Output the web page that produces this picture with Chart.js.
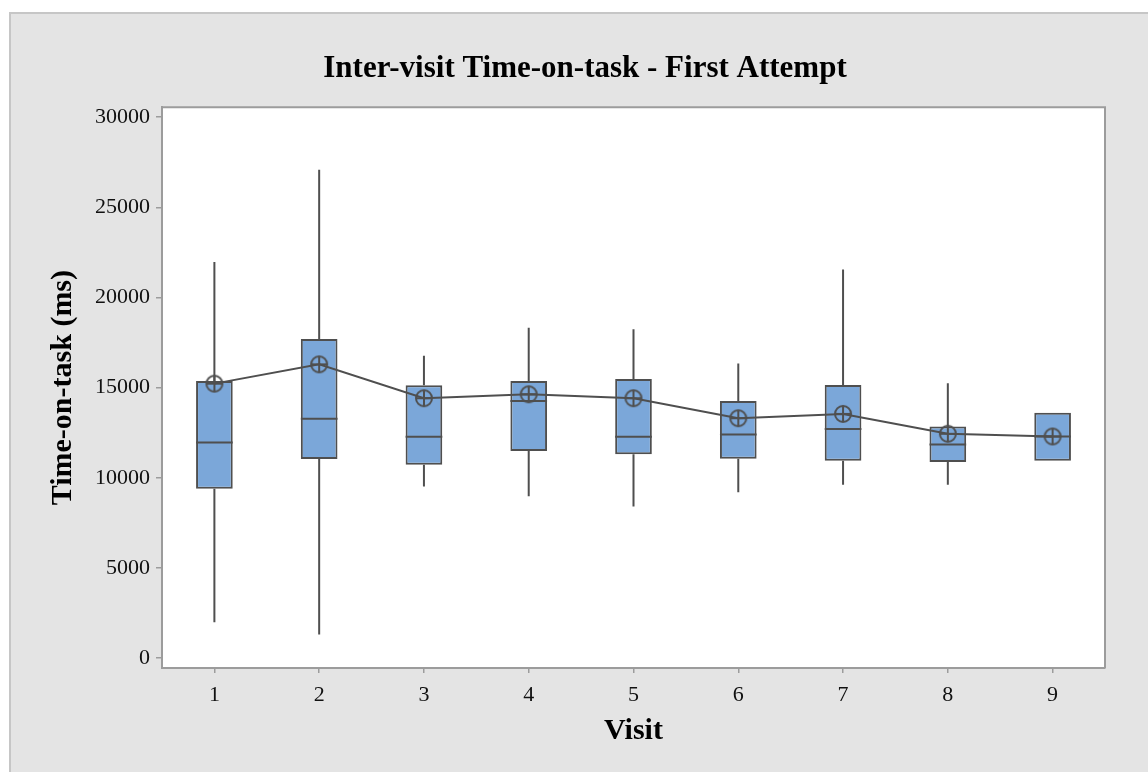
<!DOCTYPE html>
<html>
<head>
<meta charset="utf-8">
<title>Inter-visit Time-on-task - First Attempt</title>
<script src="https://cdn.jsdelivr.net/npm/chart.js@4.4.1/dist/chart.umd.min.js"></script>
<style>
  html, body { margin: 0; padding: 0; background: #ffffff; }
  #wrap { width: 1148px; height: 772px; }
</style>
</head>
<body>
<div id="wrap"><canvas id="chart" width="1148" height="772"></canvas></div>
<script>
// Visits on the x axis
const visits = ['1', '2', '3', '4', '5', '6', '7', '8', '9'];

// Box-plot summary per visit (ms)
const whiskerLow  = [1980, 1310, 9520, 8970, 8410, 9190, 9610, 9610, 10940];
const quartile1   = [9390, 11040, 10720, 11490, 11310, 11050, 10940, 10870, 10940];
const medians     = [11950, 13270, 12270, 14260, 12270, 12400, 12710, 11840, 12290];
const quartile3   = [15370, 17690, 15130, 15370, 15480, 14260, 15150, 12840, 13610];
const whiskerHigh = [21970, 27080, 16770, 18320, 18230, 16330, 21550, 15240, 13610];
const means       = [15220, 16290, 14410, 14630, 14410, 13300, 13540, 12440, 12290];

// Y axis tick values
const yTicks = [0, 5000, 10000, 15000, 20000, 25000, 30000];

const INK = '#4f4f4f';
const AXIS = '#9c9c9c';
const SERIF = "'Liberation Serif', 'Times New Roman', Times, serif";

// Mean symbol: circle with a cross
function meanSymbol() {
  const c = document.createElement('canvas');
  c.width = 22; c.height = 22;
  const g = c.getContext('2d');
  g.strokeStyle = INK;
  g.lineWidth = 2;
  g.beginPath();
  g.arc(11, 11, 8, 0, Math.PI * 2);
  g.stroke();
  g.beginPath();
  g.moveTo(11, 3); g.lineTo(11, 19);
  g.moveTo(3, 11); g.lineTo(19, 11);
  g.stroke();
  return c;
}

// Grey page background, white data region, frame on top and right
const frame = {
  id: 'frame',
  beforeDraw(chart) {
    const { ctx, width, height, chartArea: a } = chart;
    ctx.save();
    ctx.fillStyle = '#ffffff';
    ctx.fillRect(0, 0, width, height);
    ctx.fillStyle = '#e4e4e4';
    ctx.fillRect(9, 12, width - 9, height - 12);
    ctx.strokeStyle = '#c6c6c6';
    ctx.lineWidth = 2;
    ctx.beginPath();
    ctx.moveTo(10, height); ctx.lineTo(10, 13); ctx.lineTo(width, 13);
    ctx.stroke();
    ctx.fillStyle = '#ffffff';
    ctx.fillRect(a.left, a.top, a.right - a.left, a.bottom - a.top);
    ctx.restore();
  },
  afterDraw(chart) {
    const { ctx, chartArea: a } = chart;
    ctx.save();
    ctx.strokeStyle = AXIS;
    ctx.lineWidth = 2;
    ctx.beginPath();
    ctx.moveTo(a.left, a.top); ctx.lineTo(a.right, a.top); ctx.lineTo(a.right, a.bottom);
    ctx.stroke();
    ctx.restore();
  }
};

// Median lines across each box, drawn right after the boxes
const BOX_INDEX = 2;
const medianLines = {
  id: 'medianLines',
  afterDatasetDraw(chart, args) {
    if (args.index !== BOX_INDEX) return;
    const { ctx } = chart;
    const y = chart.scales.y;
    const meta = chart.getDatasetMeta(BOX_INDEX);
    ctx.save();
    ctx.strokeStyle = INK;
    ctx.lineWidth = 2;
    meta.data.forEach((bar, i) => {
      const half = bar.width / 2;
      const py = y.getPixelForValue(medians[i]);
      ctx.beginPath();
      ctx.moveTo(bar.x - half, py);
      ctx.lineTo(bar.x + half, py);
      ctx.stroke();
    });
    ctx.restore();
  }
};

const LEFT_PAD = 65;

// Thin vertical bar used for both whisker halves
const whiskerStyle = {
  type: 'bar',
  backgroundColor: INK,
  borderWidth: 0,
  inflateAmount: 0,
  barThickness: 2,
  grouped: false,
  order: 3
};

new Chart(document.getElementById('chart'), {
  data: {
    labels: visits,
    datasets: [
      Object.assign({}, whiskerStyle, {
        label: 'Lower whisker',
        data: visits.map((_, i) => [whiskerLow[i], quartile1[i]])
      }),
      Object.assign({}, whiskerStyle, {
        label: 'Upper whisker',
        data: visits.map((_, i) => [quartile3[i], whiskerHigh[i]])
      }),
      {
        type: 'bar',
        label: 'Interquartile range',
        data: visits.map((_, i) => [quartile1[i], quartile3[i]]),
        backgroundColor: '#7ba7d9',
        borderColor: INK,
        borderWidth: 2,
        borderSkipped: false,
        barPercentage: 0.35,
        categoryPercentage: 1,
        grouped: false,
        order: 2
      },
      {
        type: 'line',
        label: 'Mean',
        data: means,
        borderColor: INK,
        borderWidth: 2,
        tension: 0,
        pointStyle: meanSymbol(),
        pointRadius: 9,
        pointHoverRadius: 9,
        order: 1
      }
    ]
  },
  options: {
    responsive: false,
    animation: false,
    devicePixelRatio: 1,
    events: [],
    layout: { padding: { left: LEFT_PAD, right: 43, top: 12, bottom: 0 } },
    plugins: {
      legend: { display: false },
      tooltip: { enabled: false },
      title: {
        display: true,
        text: 'Inter-visit Time-on-task - First Attempt',
        color: '#000000',
        font: { family: SERIF, size: 31, weight: 'bold', lineHeight: 1.2 },
        padding: { top: 38, bottom: 20 }
      }
    },
    scales: {
      x: {
        type: 'category',
        offset: true,
        grid: { offset: false, drawOnChartArea: false, drawTicks: true, tickLength: 5, color: AXIS, lineWidth: 1.5 },
        border: { display: true, color: AXIS, width: 2 },
        ticks: { color: '#111111', padding: 9, font: { family: SERIF, size: 22 } },
        title: {
          display: true,
          text: 'Visit',
          color: '#000000',
          font: { family: SERIF, size: 30, weight: 'bold', lineHeight: 1.2 },
          padding: { top: 0, bottom: 23 }
        },
        afterFit(scale) { scale.height = 104; }
      },
      y: {
        type: 'linear',
        min: -553,
        max: 30553,
        afterBuildTicks(scale) { scale.ticks = yTicks.map(v => ({ value: v })); },
        grid: { drawOnChartArea: false, drawTicks: true, tickLength: 6, color: AXIS, lineWidth: 1.5 },
        border: { display: true, color: AXIS, width: 2 },
        ticks: {
          color: '#111111',
          padding: 6,
          font: { family: SERIF, size: 22 },
          callback: (v) => String(v)
        },
        title: {
          display: true,
          text: 'Time-on-task (ms)',
          color: '#000000',
          font: { family: SERIF, size: 30, weight: 'bold', lineHeight: 1.2 },
          padding: { top: 63 - 18 - LEFT_PAD, bottom: 0 }
        },
        afterFit(scale) { scale.width = 162 - LEFT_PAD; }
      }
    }
  },
  plugins: [frame, medianLines]
});
</script>
</body>
</html>
